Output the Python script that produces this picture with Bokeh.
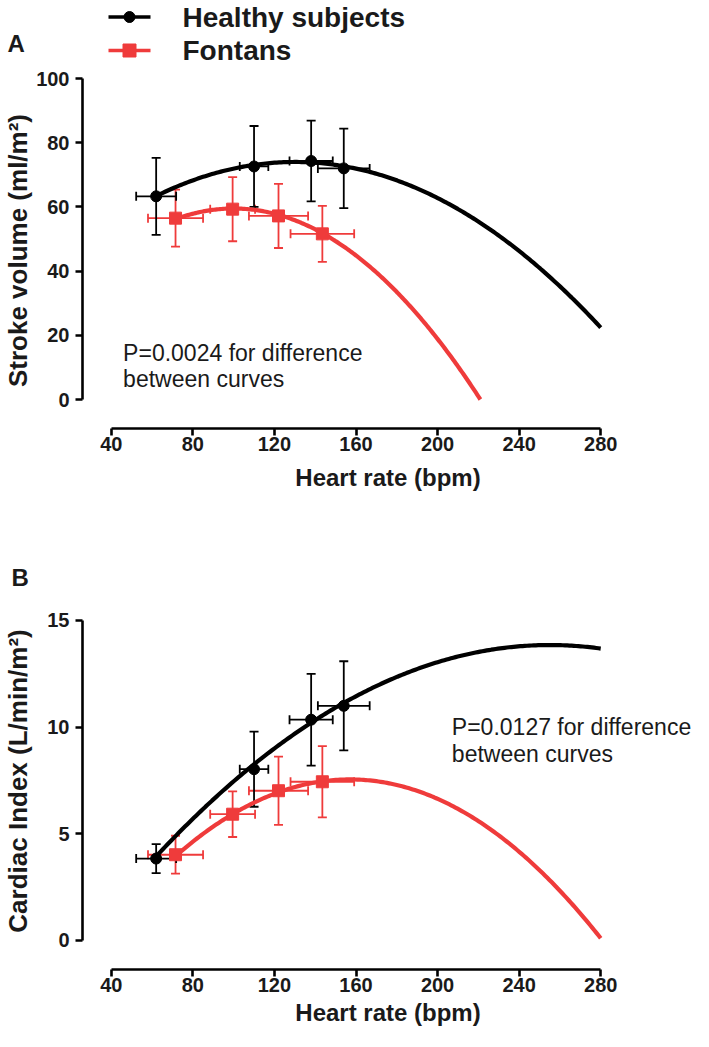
import numpy as np
from bokeh.plotting import figure
from bokeh.models import Range1d, FixedTicker, Whisker, TeeHead, ColumnDataSource, Title
from bokeh.core.properties import value
from bokeh.layouts import column
from bokeh.embed import file_html
from bokeh.resources import INLINE

# ---------------- data ----------------
hr_healthy = [62, 110, 138, 154]
hr_healthy_sd = [9.8, 7.0, 10.6, 12.7]
hr_fontan = [71.5, 99.5, 122, 143.5]
hr_fontan_sd = [13.5, 11.0, 14.5, 15.6]

sv_healthy = [63.3, 72.6, 74.3, 72.0]
sv_healthy_sd = [12.0, 12.6, 12.6, 12.4]
sv_fontan = [56.5, 59.3, 57.2, 51.6]
sv_fontan_sd = [8.9, 10.0, 10.0, 8.7]

ci_healthy = [3.84, 8.03, 10.35, 11.0]
ci_healthy_sd = [0.68, 1.76, 2.15, 2.09]
ci_fontan = [4.02, 5.92, 7.02, 7.44]
ci_fontan_sd = [0.89, 1.07, 1.6, 1.67]

# quadratic fits: (curvature, vertex x, vertex y, x start, x end)
sv_healthy_fit = [-0.002293, 130, 74.0, 62, 280]
sv_fontan_fit = [-0.004064, 100, 59.5, 71.5, 221]
ci_healthy_fit = [-0.000266, 255, 13.85, 62, 280]
ci_fontan_fit = [-0.000492, 157, 7.55, 71.5, 280]

x_ticks = [40, 80, 120, 160, 200, 240, 280]
sv_ticks = [0, 20, 40, 60, 80, 100]
ci_ticks = [0, 5, 10, 15]

series_names = ["Healthy subjects", "Fontans"]
p_texts = [["P=0.0024 for difference", "between curves"],
           ["P=0.0127 for difference", "between curves"]]

BLACK = "#000000"
RED = "#EF3B3B"
TXT = "#1a1a1a"
FONT = "Liberation Sans"
X_RANGE = (25.88, 325.5)


def fit_curve(f):
    a, h, k, x0, x1 = f
    xs = np.linspace(x0, x1, 200)
    return xs, a * (xs - h) ** 2 + k


def style_axes(p, yticks, ybounds, ylabel, ylabel_standoff):
    p.xaxis.ticker = FixedTicker(ticks=x_ticks)
    p.yaxis.ticker = FixedTicker(ticks=yticks)
    p.xaxis.bounds = (40, 280)
    p.yaxis.bounds = ybounds
    for ax in (p.xaxis[0], p.yaxis[0]):
        ax.axis_line_width = 2.6
        ax.axis_line_color = BLACK
        ax.major_tick_line_width = 2.6
        ax.major_tick_line_color = BLACK
        ax.major_tick_out = 7
        ax.major_tick_in = 0
        ax.minor_tick_line_color = None
        ax.major_label_text_font = FONT
        ax.major_label_text_font_style = "bold"
        ax.major_label_text_font_size = "20px"
        ax.major_label_text_color = TXT
    p.xaxis.major_label_standoff = 1
    p.yaxis.major_label_standoff = 6
    p.yaxis.axis_label = ylabel
    p.yaxis.axis_label_text_font = FONT
    p.yaxis.axis_label_text_font_style = "bold"
    p.yaxis.axis_label_text_font_size = "26px"
    p.yaxis.axis_label_text_color = TXT
    p.yaxis.axis_label_standoff = ylabel_standoff
    p.xgrid.visible = False
    p.ygrid.visible = False
    p.outline_line_color = None


def add_xtitle(p, standoff):
    # centred under the 40-280 axis (frame centre is 31 px further right)
    p.add_layout(Title(text="Heart rate (bpm)", align="center", offset=-31,
                       text_font=FONT, text_font_style="bold", text_font_size="24px",
                       text_color=TXT, standoff=standoff), "below")


def add_series(p, hx, hxsd, hy, hysd, fx, fxsd, fy, fysd, hfit, ffit):
    xs, ys = fit_curve(hfit)
    p.line(xs, ys, line_width=4.2, line_color=BLACK)
    xs, ys = fit_curve(ffit)
    p.line(xs, ys, line_width=4.2, line_color=RED)
    for x, xsd, y, ysd, col in ((fx, fxsd, fy, fysd, RED), (hx, hxsd, hy, hysd, BLACK)):
        x = np.array(x, float); xsd = np.array(xsd, float)
        y = np.array(y, float); ysd = np.array(ysd, float)
        src = ColumnDataSource(dict(x=x, y=y, xl=x - xsd, xu=x + xsd, yl=y - ysd, yu=y + ysd))
        for dim, base, lo, up in (("height", "x", "yl", "yu"), ("width", "y", "xl", "xu")):
            w = Whisker(source=src, base=base, lower=lo, upper=up, dimension=dim,
                        line_color=col, line_width=1.8,
                        upper_head=TeeHead(size=9, line_color=col, line_width=1.8),
                        lower_head=TeeHead(size=9, line_color=col, line_width=1.8))
            p.add_layout(w)
        if col == BLACK:
            p.scatter("x", "y", source=src, marker="circle", size=11, color=BLACK)
        else:
            p.scatter("x", "y", source=src, marker="square", size=12, color=RED)


def txt(p, x, y, text, size, bold=False, align="left", baseline="alphabetic"):
    p.text([x], [y], text=[text], text_font=value(FONT), text_font_size=size,
           text_font_style="bold" if bold else "normal", text_align=align,
           text_baseline=baseline, text_color=TXT)


# ---------------- top strip: legend + panel letter A (page pixel coords) ----------------
top = figure(width=693, height=67, x_range=Range1d(8, 701), y_range=Range1d(75, 8),
             x_axis_type=None, y_axis_type=None, output_backend="svg", toolbar_location=None,
             min_border=0, frame_align=False)
top.outline_line_color = None
top.xgrid.visible = False
top.ygrid.visible = False
leg_rows = [24.5, 58]
top.line([116, 158], [leg_rows[0]] * 2, line_width=3.5, line_color=BLACK)
top.scatter([137], [leg_rows[0]], marker="circle", size=11, color=BLACK)
top.line([116, 158], [leg_rows[1]] * 2, line_width=3.5, line_color=RED)
top.scatter([137], [leg_rows[1]], marker="square", size=13, color=RED)
txt(top, 190, leg_rows[0], series_names[0], "28px", bold=True, baseline="middle")
txt(top, 190, leg_rows[1], series_names[1], "28px", bold=True, baseline="middle")
txt(top, 15, 51, "A", "24px", bold=True)

# ---------------- panel A ----------------
pA = figure(width=693, height=453, x_range=Range1d(*X_RANGE), y_range=Range1d(-9.03, 101.87),
            output_backend="svg", toolbar_location=None,
            min_border_left=78, min_border_right=0, min_border_top=5, min_border_bottom=92)
style_axes(pA, sv_ticks, (0, 100), "Stroke volume (ml/m\u00b2)", 0)
add_xtitle(pA, 17)
add_series(pA, hr_healthy, hr_healthy_sd, sv_healthy, sv_healthy_sd,
           hr_fontan, hr_fontan_sd, sv_fontan, sv_fontan_sd, sv_healthy_fit, sv_fontan_fit)
txt(pA, 45.8, 14.64, p_texts[0][0], "23px")
txt(pA, 45.8, 6.54, p_texts[0][1], "23px")

# ---------------- panel B ----------------
pB = figure(width=693, height=511, x_range=Range1d(*X_RANGE), y_range=Range1d(-1.36, 16.3125),
            output_backend="svg", toolbar_location=None,
            min_border_left=78, min_border_right=0, min_border_top=72, min_border_bottom=62)
pB.title.text = "B"
pB.title.align = "left"
pB.title.offset = -71
pB.title.standoff = 4
pB.title.text_font = FONT
pB.title.text_font_style = "bold"
pB.title.text_font_size = "24px"
pB.title.text_color = TXT
style_axes(pB, ci_ticks, (0, 15), "Cardiac Index (L/min/m\u00b2)", 11)
add_xtitle(pB, 4)
add_series(pB, hr_healthy, hr_healthy_sd, ci_healthy, ci_healthy_sd,
           hr_fontan, hr_fontan_sd, ci_fontan, ci_fontan_sd, ci_healthy_fit, ci_fontan_fit)
txt(pB, 207, 10.03, p_texts[1][0], "23px")
txt(pB, 207, 8.76, p_texts[1][1], "23px")

layout = column(top, pA, pB, spacing=0)
open("out.html", "w").write(file_html(layout, INLINE))
